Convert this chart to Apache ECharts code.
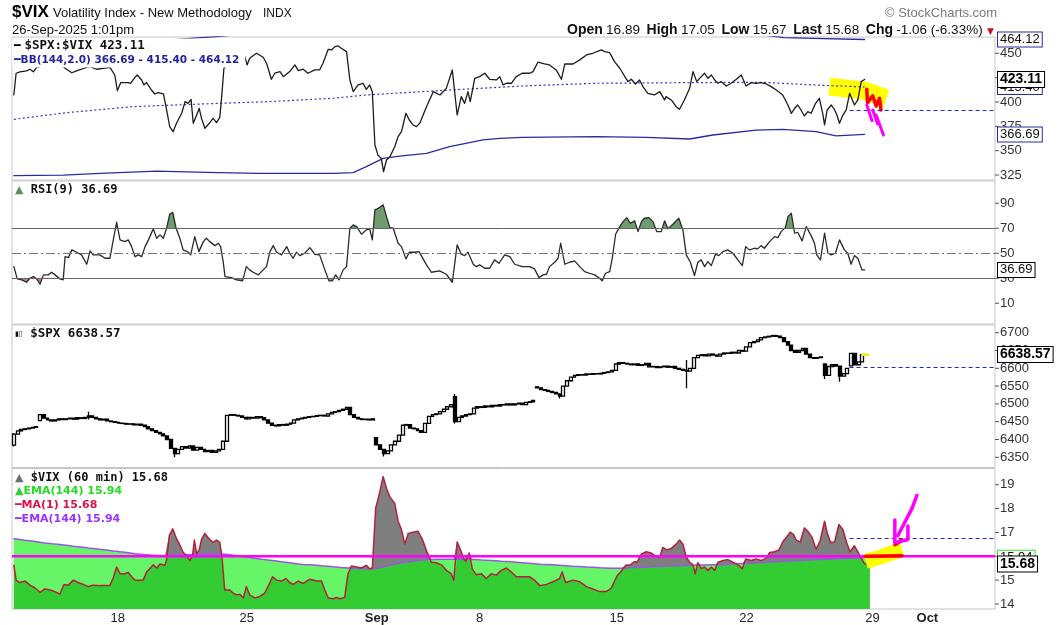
<!DOCTYPE html>
<html>
<head>
<meta charset="utf-8">
<title>$VIX Volatility Index</title>
<script src="https://cdn.jsdelivr.net/npm/echarts@6/dist/echarts.min.js"></script>
<style>
html,body{margin:0;padding:0;background:#fff;}
#chart{width:1058px;height:625px;}
</style>
</head>
<body>
<div id="chart"></div>
<script>
// ================= DATA =================
// x positions are 60-minute bar numbers (bar 0 = first bar on the chart)
const tickBars   = [27.8, 62.3, 97.1, 124.6, 161.3, 196, 229.7, 244.4];
const tickLabels = ['18', '25', 'Sep', '8', '15', '22', '29', 'Oct'];

const ratioTicks = [325, 350, 375, 400, 425, 450];
const rsiTicks   = [10, 30, 50, 70, 90];
const spxTicks   = [6350, 6400, 6450, 6500, 6550, 6600, 6650, 6700];
const vixTicks   = [14, 15, 16, 17, 18, 19];

// $SPX:$VIX ratio  [bar, value]
const ratio = [[0,407.2],[0.6,429.5],[1.6,431],[3.4,432],[4.3,433.6],[5.2,431],[6.1,435.6],[8,437],[10,438],[12,437],[13.2,436.3],[14.1,433.6],[15.5,430],[16.8,432],[18.1,433.6],[19.5,435.6],[20.4,436.3],[22.1,433.6],[23.9,434.6],[25.7,435.6],[27,427.7],[27.7,411.6],[28.6,419.9],[30.6,419.9],[31.2,419.2],[32.4,425.3],[33,427.7],[34.2,422.6],[34.8,417.5],[35.5,419.9],[36.8,412.3],[37.7,408.2],[38.6,409.6],[40,408.2],[40.7,395.2],[41.7,374.7],[42.6,369.5],[43.5,378.1],[44.9,388.4],[45.8,400.3],[46.6,398.6],[47.4,402.7],[48,378.1],[48.9,386.6],[49.6,393.5],[50.2,383.2],[51.1,373],[52.3,378.1],[53.3,383.2],[54.2,378.8],[55.1,384.2],[55.6,405.5],[56.2,434.6],[57.8,441.4],[58.7,448.3],[59.8,445.9],[60.9,451.7],[61.8,446.6],[62.4,438],[63.1,444.9],[64.9,450],[66.7,445.9],[67.6,439.7],[68.9,423.3],[69.8,429.5],[71.2,431.2],[72.1,426],[73.8,431.2],[75.2,438],[76.1,432.2],[77.4,433.6],[78.7,429.5],[80.5,432.9],[81.8,432.9],[82.7,439.7],[84.1,454.1],[85,453.4],[85.9,456.8],[86.8,457.5],[87.6,455.1],[89,451.7],[89.9,422.6],[90.8,410.6],[92.1,417.5],[93.4,419.2],[94.3,413],[95.2,417.5],[95.9,410.6],[96.6,355.8],[97.4,345.5],[98.3,342.1],[98.9,328.4],[99.7,340.4],[100.6,343.8],[101.9,354.1],[102.8,364.4],[103.7,369.5],[104.9,388.4],[105.8,381.5],[106.8,376.4],[107.7,374.7],[108.6,378.1],[110.4,395.2],[112.2,410.6],[114,407.2],[115.7,414],[117.3,432.9],[118.6,386.6],[119.7,405.5],[120.6,398.6],[121.5,410.6],[122.1,400.3],[123.3,424.3],[124.6,426],[126,429.5],[127.3,423.3],[129.1,422.6],[130,426],[130.9,417.5],[131.8,419.2],[133.1,419.2],[134.4,426],[136,429.5],[138,429.5],[138.9,431.2],[140.2,440.8],[142,439],[143.3,438],[145.1,432.9],[146.5,423.3],[147.4,439],[149.6,439],[151.4,443.2],[153.2,448.3],[154.9,450],[157.2,453.4],[158.1,451.7],[159.4,450.7],[160.7,441.4],[162.1,434.6],[164.3,420.9],[165.2,423.3],[166.3,418.5],[167.4,422.6],[168.3,415.8],[169.6,408.9],[171.4,407.2],[172.8,410.6],[174.1,402.1],[174.5,405.5],[175.9,402.1],[177.2,395.2],[178.1,392.5],[179.4,402.1],[180.8,414],[181.7,431.2],[182.7,420.9],[183.9,426],[184.8,429.5],[185.7,424.3],[186.6,427.7],[187.5,422.6],[188.4,419.2],[189.2,421],[190.6,416.4],[191.9,419.2],[193.3,423.3],[194.6,427.7],[195.9,416.4],[197.3,419.9],[198.6,419.2],[199.9,419.9],[201.3,418.5],[202.6,415.8],[204,412.3],[205.7,407.2],[207.1,396.9],[208,388.4],[208.9,393.5],[209.7,396.9],[210.6,391.8],[211.5,385.6],[212.4,390.1],[213.3,388.4],[214.5,398.6],[215.5,403.8],[216.4,388.4],[216.9,376.4],[217.6,391.8],[218.7,396.9],[219.6,391.8],[220.2,386.6],[220.9,378.1],[221.8,386.6],[222.7,391.8],[223.6,408.9],[224.9,396.9],[225.8,402.1],[226.7,420.9],[227.6,423.11]];

// Bollinger Bands (144, 2.0)  [bar, value]
const bbUpper  = [[0,440],[14,453],[32,461],[50,466],[56,467.5],[68,474],[85,481],[100,478],[115,472],[136,469],[156,474],[182,477],[200,469],[206,466],[214,465.2],[227.6,464.12]];
const bbMiddle = [[0,382.2],[14,389],[32,395.2],[50,397.9],[68,400.3],[85.4,403.8],[94.3,407.2],[112.2,411.3],[136,416.4],[155.8,419.2],[182.6,419.9],[200.4,420.2],[213.8,417.5],[227.6,415.4]];
const bbLower  = [[0,324.3],[13.2,325],[23,326.7],[38.2,329.1],[51.5,327.7],[65.8,326.7],[85.4,326.7],[90.8,327.4],[94.3,333.6],[98.8,342.1],[103.2,344.5],[110.4,347.3],[116.6,354.1],[125.5,361],[130,362.7],[136,363.7],[155.8,364.4],[169.2,363.7],[180.8,362],[187,366.1],[198.6,371.2],[205.7,371.9],[214.6,369.5],[220,365.1],[227.6,366.69]];
const ratioTags = [464.12, 415.40, 366.69];
const ratioLast = 423.11;

// RSI(9)  [bar, value]
const rsi = [[0,39.3],[0.9,29.5],[2.1,28.7],[3.4,26.8],[4.3,30],[5.2,31.3],[6.1,29.5],[7,25.2],[7.9,32.7],[9.2,32.7],[10.1,34.8],[11,32.7],[12.3,29.5],[13.2,28.7],[13.7,47.3],[14.6,46.5],[15.5,52.7],[16.8,50.8],[18.1,48.7],[19.5,41.2],[20.4,51.9],[21.2,48.7],[23,48.7],[24.4,46],[25.7,46],[26.6,60.7],[27.5,74.8],[28.4,60.7],[29.7,59.3],[30.6,60.7],[31.5,55.3],[32.4,47.3],[33.3,48.7],[34.2,47.3],[35.1,55.3],[36,60.7],[37.3,69.5],[38.2,62],[39.1,64.7],[40,62],[40.9,70.5],[41.7,81.2],[42.5,82.8],[43.4,70],[44.4,62],[45.3,52.7],[46.7,50.8],[47.3,48.7],[48.4,63.3],[49.5,51.3],[50.7,59.3],[51.5,62],[52.4,59.3],[53.8,56.1],[54.7,58],[55.3,55.3],[56,43.3],[56.5,31.3],[58.2,30.5],[59.6,28.7],[61.2,27.9],[62.2,39.3],[63.1,36.7],[64,34.8],[65.4,32.7],[66.7,36.7],[67.6,39.3],[68.5,51.3],[69.4,56.1],[70.3,50.8],[71.6,48.7],[73,55.3],[73.8,50],[74.7,46],[75.6,50.8],[76.5,48.1],[77.8,50],[79.2,54.5],[80.5,49.2],[81.8,48.7],[83.2,36.7],[84.3,27.9],[85.2,27.9],[86.1,32.7],[87,28.7],[88.1,36.7],[89,39.3],[89.9,70],[90.8,72.7],[91.7,71.3],[93,65.2],[94.3,68.7],[95.2,69.5],[95.9,60.7],[96.6,84.7],[97.5,86],[98.8,88.7],[99.7,79.3],[100.6,70.5],[101.5,70],[102.8,58],[103.7,55.3],[104.9,45.5],[105.8,50.8],[107.3,50.8],[108.4,51.3],[110.4,40.7],[111.7,34.8],[113.9,35.9],[115.7,33.2],[117.3,26.8],[118.6,56.7],[119.7,49.2],[120.6,48.1],[121.5,50.8],[122.9,41.2],[123.7,39.3],[124.6,40.7],[126,38],[127.3,38],[128.6,44.7],[129.8,42],[131.3,48.7],[132.7,47.3],[134,41.2],[136,39.3],[138,39.3],[139.3,37.5],[140.5,30.5],[141.6,32.7],[142.5,33.2],[143.3,39.3],[144.7,42.8],[145.6,46],[146.3,58],[147.4,41.2],[148.7,42.8],[150,43.9],[151.4,39.3],[152.7,35.3],[154,34],[155.4,32.7],[156.7,30],[157.4,27.9],[158.3,34],[159.4,35.3],[160.1,46],[161,65.2],[162.1,71.3],[163,75.3],[164,78.5],[164.9,74],[166.1,75.9],[167,67.3],[167.9,75.3],[168.7,78],[169.9,78.5],[171,75.3],[172,67.3],[173.2,67.3],[174.1,75.9],[175,69.5],[176.3,73.2],[177.9,78],[179,68.7],[179.9,48.7],[181,42.8],[182.1,32.1],[183,42.8],[183.9,44.7],[184.8,39.3],[185.7,43.3],[186.6,40.1],[187.7,49.2],[188.6,48.1],[189.7,51.3],[191,52.7],[192.4,50],[193.7,44.7],[194.9,40.1],[195.8,55.3],[196.8,52.7],[198.2,54],[199,53.5],[199.9,56.1],[200.8,54],[202.2,59.3],[203.5,63.3],[204.4,62.5],[205.3,67.3],[206.4,70.5],[207.1,79.3],[208,82],[208.9,66],[209.7,66.8],[210.9,59.9],[212,71.3],[213.3,64.1],[214.2,58],[214.8,48.7],[215.8,44.7],[216.9,66],[217.8,50],[218.7,48.7],[219.8,50],[220.9,60.7],[222.2,52.7],[223.1,50],[224,41.2],[224.9,48.1],[225.8,46],[226.9,36.7],[227.6,36.69]];
const rsiOverbought = 70, rsiMid = 50, rsiOversold = 30;
const rsiLast = 36.69;

// $SPX 60-minute closes, bar 0 .. 227
const spxClose = [
 6415,6424,6428,6430,6432,6434,6436,6470,6460,6455,
 6452,6455,6458,6456,6458,6460,6457,6461,6459,6462,
 6466,6462,6458,6455,6457,6452,6450,6448,6446,6445,
 6443,6444,6441,6443,6440,6436,6430,6425,6420,6416,
 6410,6400,6375,6360,6372,6380,6376,6382,6370,6378,
 6372,6366,6369,6364,6368,6372,6395,6468,6470,6468,
 6466,6462,6458,6462,6460,6464,6461,6455,6446,6440,
 6438,6442,6440,6443,6446,6455,6458,6460,6462,6464,
 6465,6467,6468,6466,6472,6476,6478,6482,6485,6490,
 6470,6462,6458,6456,6457,6455,6458,6385,6372,6360,
 6368,6385,6395,6412,6440,6442,6432,6430,6425,6420,
 6445,6465,6470,6472,6478,6485,6492,6498,6450,6462,
 6466,6470,6472,6488,6492,6490,6494,6492,6496,6494,
 6498,6497,6500,6497,6500,6502,6498,6504,6506,6510,
 6545,6540,6538,6535,6532,6528,6522,6550,6565,6575,
 6580,6582,6581,6584,6583,6585,6584,6586,6588,6590,
 6594,6612,6616,6614,6612,6610,6612,6608,6610,6614,
 6604,6605,6602,6604,6606,6603,6605,6600,6597,6594,
 6592,6600,6630,6636,6638,6635,6640,6637,6634,6640,
 6643,6642,6645,6643,6650,6648,6660,6672,6675,6680,
 6686,6688,6690,6692,6690,6686,6675,6665,6650,6645,
 6650,6656,6640,6630,6628,6630,6632,6580,6605,6610,
 6606,6578,6585,6600,6642,6610,6618,6638.57];
// opens that gap away from the previous close  [bar, open]
const spxOpenGaps = [[0,6384],[7,6453],[97,6405],[118,6520],[140,6548],[217,6612],[224,6607]];
// visible wicks  [bar, low, high]
const spxWicks = [[0,6380,6418],[20,6456,6478],[43,6350,6375],[99,6352,6372],[118,6445,6528],[146,6515,6530],[180,6544,6623],[217,6570,6612],[221,6562,6606]];
const spxLast = 6638.57;

// $VIX 60-min  [bar, VIX, EMA(144)]
const vixRows = [
 [0,15.62,16.73],[0.6,15.0,16.72],[1.6,14.9,16.70],[3,14.96,16.67],[4.3,14.79,16.65],[5.6,14.68,16.62],[7,14.49,16.59],[8.3,14.63,16.56],[9.7,14.59,16.54],[11,14.52,16.51],
 [12.3,14.41,16.49],[13.4,14.82,16.47],[14.6,14.79,16.45],[15.9,15.0,16.42],[17.2,14.9,16.40],[18.6,14.82,16.38],[19.9,14.73,16.35],[21.2,14.79,16.33],[23,14.77,16.29],[25.7,14.77,16.24],
 [26.6,15.1,16.22],[27.5,15.55,16.21],[28.4,15.27,16.19],[29.7,15.27,16.17],[30.6,15.32,16.15],[31.5,15.14,16.13],[32.4,15.0,16.11],[33.7,15.0,16.09],[34.6,15.0,16.07],[35.5,15.34,16.06],
 [37.3,15.64,16.04],[38.2,15.51,16.03],[39.1,15.68,16.03],[40.4,15.62,16.02],[40.9,15.89,16.02],[41.6,16.88,16.03],[42.5,17.15,16.04],[43.4,16.78,16.05],[44.4,16.47,16.06],[45.3,16.16,16.06],
 [46.2,16.03,16.06],[47.1,15.82,16.06],[47.8,16.03,16.06],[48.3,16.68,16.07],[48.9,16.1,16.07],[49.6,16.27,16.08],[50.2,16.71,16.08],[51.1,16.96,16.09],[52,16.78,16.09],[53.3,16.58,16.10],
 [54.2,16.68,16.10],[55.1,16.58,16.10],[55.8,15.75,16.10],[56.4,14.59,16.09],[57.8,14.59,16.06],[58.7,14.45,16.04],[59.6,14.38,16.02],[60.5,14.41,16.00],[61.4,14.25,15.98],[62.2,14.73,15.97],
 [63.1,14.38,15.95],[64.5,14.25,15.92],[65.8,14.32,15.89],[67.1,14.45,15.86],[68,14.73,15.84],[69.2,15.14,15.82],[70.3,15.0,15.80],[71.6,14.96,15.77],[72.8,15.07,15.75],[73.8,14.9,15.73],
 [74.7,14.82,15.71],[76.1,14.96,15.68],[77.4,14.86,15.66],[79.2,15.04,15.64],[81,14.96,15.62],[82.3,14.96,15.60],[83.2,14.59,15.59],[84.1,14.25,15.58],[85.4,14.22,15.56],[86.3,14.27,15.55],
 [87.2,14.22,15.53],[88.5,14.27,15.52],[89.4,15.27,15.51],[90.3,15.59,15.50],[91.7,15.55,15.49],[93,15.51,15.49],[94.3,15.62,15.48],[95.2,15.48,15.48],[95.9,15.51,15.48],[96.8,18.01,15.49],
 [97.9,18.7,15.52],[98.8,19.34,15.55],[99.7,18.84,15.58],[100.6,18.49,15.62],[101.9,18.22,15.66],[102.8,17.47,15.70],[103.7,17.12,15.73],[104.6,16.51,15.75],[105.5,16.96,15.77],[106.8,17.01,15.79],
 [108.1,17.05,15.82],[109.3,16.71,15.84],[110.4,16.23,15.86],[111.7,15.75,15.87],[113,15.73,15.88],[114.4,15.64,15.88],[115.7,15.41,15.88],[117,15.27,15.88],[117.7,15.0,15.88],[118.6,16.6,15.88],
 [119.5,16.27,15.88],[120.4,15.89,15.87],[120.9,15.78,15.87],[121.8,16.14,15.87],[122.7,15.45,15.86],[123.7,15.23,15.86],[125.1,15.27,15.84],[126.4,15.07,15.83],[127.7,15.27,15.82],[129.1,15.21,15.81],
 [130.4,15.41,15.79],[131.8,15.51,15.78],[133.1,15.34,15.77],[134.4,15.14,15.75],[136,15.14,15.73],[138,15.14,15.71],[139.3,15.0,15.69],[140.7,14.77,15.67],[142.5,14.82,15.66],[144.2,14.93,15.64],
 [146,15.07,15.62],[146.7,15.34,15.61],[147.6,14.9,15.60],[149.6,15.0,15.58],[151.4,14.93,15.57],[153.2,14.73,15.55],[154.9,14.63,15.54],[156.7,14.52,15.52],[158.5,14.52,15.51],[159.8,14.66,15.50],
 [161.4,15.18,15.50],[162.5,15.37,15.50],[163.8,15.64,15.51],[164.7,15.62,15.52],[166.1,15.78,15.53],[166.7,15.75,15.53],[167.9,16.1,15.54],[169.2,16.19,15.55],[170.5,16.14,15.56],[171.7,16.0,15.57],
 [172.8,15.96,15.57],[173.6,16.37,15.58],[174.7,16.27,15.59],[175.9,16.33,15.59],[177.2,16.51,15.60],[178.1,16.68,15.60],[179,16.51,15.61],[179.9,15.96,15.61],[180.8,15.75,15.61],[181.7,15.64,15.62],
 [182.3,15.27,15.62],[183,15.73,15.62],[183.9,15.48,15.63],[184.8,15.55,15.63],[185.7,15.41,15.64],[186.6,15.55,15.64],[187.5,15.41,15.65],[188.4,15.75,15.65],[189.7,15.82,15.66],[191,15.86,15.67],
 [192.4,15.75,15.68],[193.7,15.64,15.69],[194.9,15.48,15.70],[195.8,15.89,15.70],[197.3,15.82,15.71],[198.6,15.89,15.72],[199.9,15.82,15.74],[201.3,15.92,15.75],[202.2,16.16,15.76],[203.5,16.19,15.77],
 [204.7,16.27,15.78],[205.7,16.6,15.79],[206.8,16.82,15.80],[207.7,17.01,15.80],[208.6,16.92,15.81],[209.3,16.68,15.82],[210.4,16.6,15.82],[211.5,17.19,15.83],[212.4,17.05,15.84],[213.6,16.78,15.85],
 [214.6,16.3,15.86],[215.7,16.64,15.87],[216.9,17.47,15.88],[217.6,16.99,15.88],[218.5,16.58,15.89],[219.6,16.6,15.90],[220.7,17.33,15.91],[221.8,17.12,15.92],[222.8,16.58,15.92],[223.7,16.19,15.93],
 [224.9,16.44,15.93],[225.8,16.19,15.94],[226.7,15.92,15.94],[227.6,15.68,15.94],[229,15.68,15.94]];
const vixLast = 15.68, emaLast = 15.94;

// hand-drawn annotations and dashed level lines  [bar, value]
const dashStartBar = 223.6;
const ratioDashLevel = 391.8, spxDashLevel = 6602.6, vixDashLevel = 16.75;
const vixMagentaLevel = 16.0;
const p1Yellow   = [[218.2,415.8],[227.6,411.6],[233.4,403.8]];
const p1Red      = [[228.2,413.0],[228.4,399.3],[229.8,406.2],[230.7,395.9],[231.6,403.8],[232.0,391.8]];
const p1MagentaA = [[228.2,396.9],[229.6,380.8]];
const p1MagentaB = [[229.8,391.8],[231.1,377.4]];
const p1MagentaC = [[230.7,386.6],[232.65,366.1]];
const p3Yellow   = [[227,6638],[228.6,6638]];
const p4Yellow   = [[227.9,15.79],[231.7,15.96],[237.6,16.29]];
const p4RedA     = [[227.9,16.0],[237.6,16.02]];
const p4RedB     = [[235.8,16.5],[237.6,16.68]];
const p4MagentaA = [[235.7,17.52],[235.7,16.57]];
const p4MagentaB = [[235.7,16.57],[239.2,16.70],[239.2,17.27]];
const p4MagentaC = [[236.5,16.86],[240.3,18.01],[241.6,18.55]];

// ================= LAYOUT =================
const XMIN = -0.5, XMAX = 262.5;
const PANELS = [
  {top: 37,    height: 143,   min: 319.9,  max: 466.7},
  {top: 181,   height: 143,   min: -6.6,   max: 107.8},
  {top: 325,   height: 142.5, min: 6321.3, max: 6721.6},
  {top: 468.5, height: 143.2, min: 13.79,  max: 19.68}
];
const rsiP = PANELS[1];
const yPix = (p, v) => p.top + (p.max - v) / (p.max - p.min) * p.height;
const y70 = yPix(rsiP, rsiOverbought), y30 = yPix(rsiP, rsiOversold);

const grids = PANELS.map(p => ({left: 12, width: 983, top: p.top, height: p.height, show: true, borderColor: '#c6c6c6', borderWidth: 1}));
grids.push({left: 12, width: 983, top: rsiP.top, height: y70 - rsiP.top, show: false});
grids.push({left: 12, width: 983, top: y30, height: rsiP.top + rsiP.height - y30, show: false});

const FONT = 'Liberation Sans';
const xAxes = grids.map((g, i) => ({
  gridIndex: i, type: 'value', min: XMIN, max: XMAX, show: i === 3,
  axisLine: {show: false}, axisTick: {show: false}, splitLine: {show: false},
  axisLabel: i === 3 ? {
    customValues: tickBars, margin: 3, fontSize: 13, fontFamily: FONT, color: '#222',
    formatter: v => {
      const k = tickBars.findIndex(t => Math.abs(t - v) < 1e-6);
      const s = k >= 0 ? tickLabels[k] : '';
      return /[A-Za-z]/.test(s) ? '{b|' + s + '}' : s;
    },
    rich: {b: {fontWeight: 'bold', fontSize: 13, fontFamily: FONT, color: '#222'}}
  } : {show: false}
}));

const mainTicks = [ratioTicks, rsiTicks, spxTicks, vixTicks];
const yAxes = PANELS.map((p, i) => ({
  gridIndex: i, type: 'value', min: p.min, max: p.max, position: 'right', z: 1,
  axisLine: {show: false}, splitLine: {show: false}, axisTick: {show: false},
  axisLabel: {
    customValues: mainTicks[i], margin: 0,
    formatter: v => '{t|}{n|' + String(v) + '}',
    rich: {
      t: {width: 4, height: 1, backgroundColor: '#555', verticalAlign: 'middle'},
      n: {fontSize: 13, fontFamily: FONT, color: '#333', padding: [0, 0, 0, 1], verticalAlign: 'middle'}
    }
  }
}));
// 4,5 : RSI overlay axes used for the shaded overbought / oversold zones
yAxes.push({gridIndex: 4, type: 'value', min: rsiOverbought, max: rsiP.max, show: false});
yAxes.push({gridIndex: 5, type: 'value', min: rsiP.min, max: rsiOversold, show: false});

function tagAxis(grid, values, z, style) {
  const p = PANELS[grid];
  return {
    gridIndex: grid, type: 'value', min: p.min, max: p.max, position: 'right', z: z,
    axisLine: {show: false}, axisTick: {show: false}, splitLine: {show: false},
    axisLabel: Object.assign({
      customValues: values, margin: 3, formatter: v => v.toFixed(2),
      fontFamily: FONT, fontSize: 13, color: '#111', backgroundColor: '#fff',
      borderWidth: 1, padding: [1, 2, 0, 2]
    }, style)
  };
}
const boldTag = {fontSize: 14, fontWeight: 'bold', color: '#000', borderColor: '#000'};
yAxes.push(tagAxis(0, ratioTags, 5, {borderColor: '#2a2aa0'}));     // 6
yAxes.push(tagAxis(0, [ratioLast], 6, boldTag));                    // 7
yAxes.push(tagAxis(1, [rsiLast], 6, {borderColor: '#000'}));        // 8
yAxes.push(tagAxis(2, [spxLast], 6, boldTag));                      // 9
yAxes.push(tagAxis(3, [emaLast], 5, {borderColor: '#33dd33'}));     // 10
yAxes.push(tagAxis(3, [vixLast], 6, boldTag));                      // 11

// ================= SERIES =================
function line(data, xi, yi, color, width, extra) {
  return Object.assign({
    type: 'line', data: data, xAxisIndex: xi, yAxisIndex: yi,
    symbol: 'none', showSymbol: false, silent: true, animation: false,
    lineStyle: {color: color, width: width, join: 'round', cap: 'round'}
  }, extra || {});
}
function dashLine(level) {
  return {
    silent: true, symbol: ['none', 'none'], label: {show: false}, animation: false,
    lineStyle: {color: '#2323e6', width: 1.2, type: [4, 3]},
    data: [[{coord: [dashStartBar, level]}, {coord: [XMAX, level]}]]
  };
}
function area(data, color) {
  return line(data, 3, 3, color, 0, {z: 1, lineStyle: {width: 0, opacity: 0},
    areaStyle: {color: color, opacity: 1, origin: 'start'}});
}

const openGap = new Map(spxOpenGaps);
const wickMap = new Map(spxWicks.map(w => [w[0], w]));
const candleData = spxClose.map((c, i) => {
  const o = openGap.has(i) ? openGap.get(i) : spxClose[i - 1];
  const w = wickMap.get(i);
  return [i, o, c, w ? w[1] : Math.min(o, c), w ? w[2] : Math.max(o, c)];
});

const vixLine  = vixRows.map(r => [r[0], r[1]]);
const emaLine  = vixRows.map(r => [r[0], r[2]]);
const vixMax   = vixRows.map(r => [r[0], Math.max(r[1], r[2])]);
const vixMin   = vixRows.map(r => [r[0], Math.min(r[1], r[2])]);

const MAG = '#ff00ff';
const series = [
  // ---- panel 1: $SPX:$VIX with BB ----
  line(p1Yellow, 0, 0, '#ffff00', 18, {z: 1, lineStyle: {color: '#ffff00', width: 18, cap: 'butt', join: 'round'}}),
  line(bbUpper, 0, 0, '#2b2ba0', 1.3, {z: 2}),
  line(bbLower, 0, 0, '#2b2ba0', 1.3, {z: 2}),
  line(bbMiddle, 0, 0, '#3434cc', 1.2, {z: 2, lineStyle: {color: '#3434cc', width: 1.2, type: [2, 2.5]}}),
  line(ratio, 0, 0, '#1c1c1c', 1.3, {z: 3, markLine: dashLine(ratioDashLevel)}),
  line(p1Red, 0, 0, '#ff0000', 3.5, {z: 4}),
  line(p1MagentaA, 0, 0, MAG, 3, {z: 5}),
  line(p1MagentaB, 0, 0, MAG, 3, {z: 5}),
  line(p1MagentaC, 0, 0, MAG, 3, {z: 5}),

  // ---- panel 2: RSI(9) ----
  line(rsi, 4, 4, '#2a2a2a', 0, {z: 2, lineStyle: {width: 0, opacity: 0},
    areaStyle: {color: '#6e9c6e', opacity: 1, origin: 'start'}}),
  line(rsi, 5, 5, '#2a2a2a', 0, {z: 2, lineStyle: {width: 0, opacity: 0},
    areaStyle: {color: '#c08585', opacity: 1, origin: 'end'}}),
  line(rsi, 1, 1, '#2a2a2a', 1.3, {z: 3, markLine: {
    silent: true, symbol: ['none', 'none'], label: {show: false}, animation: false,
    data: [
      {yAxis: rsiOverbought, lineStyle: {color: '#666', width: 1, type: 'solid'}},
      {yAxis: rsiOversold, lineStyle: {color: '#666', width: 1, type: 'solid'}},
      {yAxis: rsiMid, lineStyle: {color: '#777', width: 1, type: [9, 3, 2, 3]}}
    ]}}),

  // ---- panel 3: $SPX candles ----
  {type: 'candlestick', xAxisIndex: 2, yAxisIndex: 2, data: candleData, barWidth: 3.4,
   silent: true, animation: false, z: 3,
   itemStyle: {color: '#ffffff', color0: '#000000', borderColor: '#000000', borderColor0: '#000000', borderWidth: 1.3}},
  line(p3Yellow, 2, 2, '#f0f000', 2.5, {z: 4, markLine: dashLine(spxDashLevel)}),

  // ---- panel 4: $VIX with EMA(144) ----
  area(vixMax, '#7f7f7f'),     // VIX above its EMA shows grey
  area(emaLine, '#66f566'),    // EMA above VIX shows light green
  area(vixMin, '#33cc33'),     // common part shows dark green
  line(emaLine, 3, 3, '#9b55e8', 1.5, {z: 2}),
  line(vixLine, 3, 3, '#b3203c', 1.5, {z: 3, markLine: dashLine(vixDashLevel)}),
  line(p4Yellow, 3, 3, '#ffff00', 15, {z: 4, lineStyle: {color: '#ffff00', width: 15, cap: 'butt', join: 'round'}}),
  line([[XMIN, vixMagentaLevel], [XMAX, vixMagentaLevel]], 3, 3, MAG, 2.5, {z: 5, lineStyle: {color: MAG, width: 2.5, cap: 'butt'}}),
  line(p4RedA, 3, 3, '#ff0000', 3.5, {z: 6}),
  line(p4RedB, 3, 3, '#ff0000', 4, {z: 6}),
  line(p4MagentaA, 3, 3, MAG, 3.5, {z: 7}),
  line(p4MagentaB, 3, 3, MAG, 3.5, {z: 7}),
  line(p4MagentaC, 3, 3, MAG, 3.5, {z: 7})
];

// ================= TEXT =================
const MONO = 'DejaVu Sans Mono', SANS = 'DejaVu Sans';
const titles = [
  {left: 12, top: 38, backgroundColor: '#fff', padding: [1, 6, 2, 2],
   text: '{d|━ }{t|$SPX:$VIX ' + ratioLast.toFixed(2) + '}\n{bd|━}{bb|BB(144,2.0) ' + ratioTags[2].toFixed(2) + ' - ' + ratioTags[1].toFixed(2) + ' - ' + ratioTags[0].toFixed(2) + '}',
   textStyle: {rich: {
     d: {color: '#000', fontSize: 11, fontFamily: SANS, lineHeight: 14},
     t: {color: '#111', fontSize: 12.5, fontFamily: MONO, lineHeight: 14},
     bd: {color: '#2323a0', fontSize: 11, fontFamily: SANS, lineHeight: 14},
     bb: {color: '#2323a0', fontSize: 10.5, fontFamily: SANS, lineHeight: 14}
   }}},
  {left: 13, top: 182, padding: [1, 2, 1, 2],
   text: '{i|▲}{t| RSI(9) ' + rsiLast.toFixed(2) + '}',
   textStyle: {rich: {
     i: {color: '#5f8f5f', fontSize: 11, fontFamily: SANS, lineHeight: 14},
     t: {color: '#111', fontSize: 12, fontFamily: MONO, lineHeight: 14}
   }}},
  {left: 13, top: 326, padding: [1, 2, 1, 2],
   text: '{i|▮▯}{t| $SPX ' + spxLast.toFixed(2) + '}',
   textStyle: {rich: {
     i: {color: '#111', fontSize: 7, fontFamily: SANS, lineHeight: 14},
     t: {color: '#111', fontSize: 12.5, fontFamily: MONO, lineHeight: 14}
   }}},
  {left: 13, top: 470, padding: [1, 2, 1, 2],
   text: '{gi|▲}{t| $VIX (60 min) ' + vixLast.toFixed(2) + '}\n{ei|▲}{e|EMA(144) ' + emaLast.toFixed(2) + '}\n{mi|━}{m|MA(1) ' + vixLast.toFixed(2) + '}\n{pi|━}{p|EMA(144) ' + emaLast.toFixed(2) + '}',
   textStyle: {rich: {
     gi: {color: '#6e6e6e', fontSize: 11, fontFamily: SANS, lineHeight: 13.7},
     t: {color: '#111', fontSize: 12, fontFamily: MONO, lineHeight: 13.7},
     ei: {color: '#33cc33', fontSize: 11, fontFamily: SANS, lineHeight: 13.7},
     e: {color: '#22dd22', fontSize: 11, fontFamily: SANS, lineHeight: 13.7},
     mi: {color: '#dd1144', fontSize: 11, fontFamily: SANS, lineHeight: 13.7},
     m: {color: '#dd1144', fontSize: 11, fontFamily: SANS, lineHeight: 13.7},
     pi: {color: '#9933ff', fontSize: 11, fontFamily: SANS, lineHeight: 13.7},
     p: {color: '#9933ff', fontSize: 11, fontFamily: SANS, lineHeight: 13.7}
   }}}
];

const graphic = [
  {type: 'text', left: 12, top: 4, style: {text: '$VIX', font: 'bold 17px "Liberation Sans"', fill: '#000'}},
  {type: 'text', left: 53, top: 7, style: {text: 'Volatility Index - New Methodology', font: '13px "Liberation Sans"', fill: '#111'}},
  {type: 'text', left: 263, top: 8, style: {text: 'INDX', font: '12px "Liberation Sans"', fill: '#111'}},
  {type: 'text', left: 12, top: 24, style: {text: '26-Sep-2025 1:01pm', font: '13px "Liberation Sans"', fill: '#111'}},
  {type: 'text', left: 885, top: 7, style: {text: '© StockCharts.com', font: '13px "Liberation Sans"', fill: '#7a7a7a'}},
  {type: 'text', left: 567, top: 23, style: {
    text: '{k|Open} {v|16.89}  {k|High} {v|17.05}  {k|Low} {v|15.67}  {k|Last} {v|15.68}  {k|Chg} {v|-1.06 (-6.33%)}',
    rich: {
      k: {fontFamily: FONT, fontSize: 14, fontWeight: 'bold', fill: '#111'},
      v: {fontFamily: FONT, fontSize: 13.5, fill: '#111'}
    }}},
  {type: 'text', left: 987, top: 27, style: {text: '▼', font: '9px "DejaVu Sans"', fill: '#c8102e'}}
];

const chart = echarts.init(document.getElementById('chart'), null, {renderer: 'canvas', width: 1058, height: 625});
chart.setOption({
  animation: false,
  backgroundColor: '#ffffff',
  textStyle: {fontFamily: FONT},
  title: titles,
  graphic: graphic,
  grid: grids,
  xAxis: xAxes,
  yAxis: yAxes,
  series: series
});
</script>
</body>
</html>
